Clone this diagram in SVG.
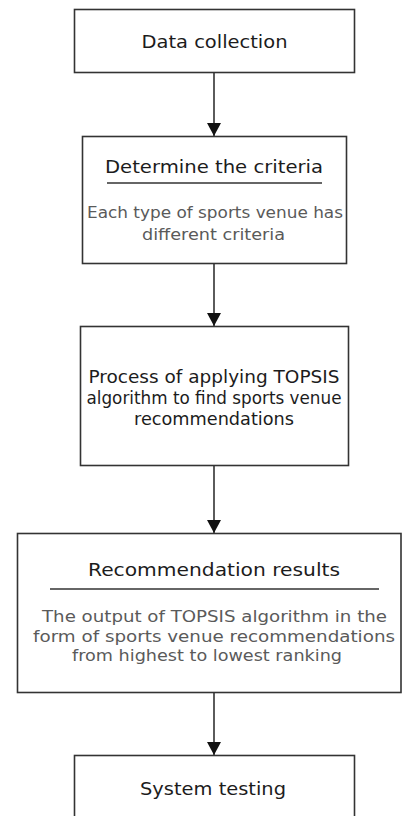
<svg xmlns="http://www.w3.org/2000/svg" width="403" height="816" viewBox="0 0 403 816">
<style>
.box{fill:#fff;stroke:#333;stroke-width:1.6}
.sep{stroke:#333;stroke-width:1.4}
.conn{stroke:#333;stroke-width:1.6;fill:none}
.t{font-family:"DejaVu Sans","Liberation Sans",sans-serif;font-size:18px;fill:#1c1c1c;text-anchor:middle}
.b{font-family:"DejaVu Sans","Liberation Sans",sans-serif;font-size:16px;fill:#5a5a5a;text-anchor:middle}
</style>
<defs>
<marker id="ah" markerWidth="14" markerHeight="14" refX="13" refY="7" orient="auto" markerUnits="userSpaceOnUse">
<path d="M0,0 L13,7 L0,14 Z" fill="#111"/>
</marker>
</defs>
<rect width="403" height="816" fill="#fff"/>
<g id="connectors">
<line class="conn" x1="214" y1="72" x2="214" y2="136" marker-end="url(#ah)"/>
<line class="conn" x1="214" y1="263" x2="214" y2="326" marker-end="url(#ah)"/>
<line class="conn" x1="214" y1="465" x2="214" y2="533" marker-end="url(#ah)"/>
<line class="conn" x1="214" y1="692" x2="214" y2="755" marker-end="url(#ah)"/>
</g>
<g id="n1">
<rect class="box" x="74.5" y="9.5" width="280" height="63"/>
<text class="t" x="214.5" y="48" textLength="146" lengthAdjust="spacingAndGlyphs">Data collection</text>
</g>
<g id="n2">
<rect class="box" x="82.5" y="136.5" width="264" height="127"/>
<text class="t" x="214" y="173" textLength="218" lengthAdjust="spacingAndGlyphs">Determine the criteria</text>
<line class="sep" x1="107" y1="183" x2="322" y2="183"/>
<text class="b" x="215" y="218" textLength="256" lengthAdjust="spacingAndGlyphs">Each type of sports venue has</text>
<text class="b" x="213.5" y="240" textLength="143" lengthAdjust="spacingAndGlyphs">different criteria</text>
</g>
<g id="n3">
<rect class="box" x="80.5" y="326.5" width="268" height="139"/>
<text class="t" x="214" y="383" textLength="251" lengthAdjust="spacingAndGlyphs">Process of applying TOPSIS</text>
<text class="t" x="214" y="404" textLength="255" lengthAdjust="spacingAndGlyphs">algorithm to find sports venue</text>
<text class="t" x="214" y="425" textLength="160" lengthAdjust="spacingAndGlyphs">recommendations</text>
</g>
<g id="n4">
<rect class="box" x="17.5" y="533.5" width="383.5" height="159"/>
<text class="t" x="214" y="576" textLength="252" lengthAdjust="spacingAndGlyphs">Recommendation results</text>
<line class="sep" x1="50" y1="589" x2="379" y2="589"/>
<text class="b" x="214.5" y="622" textLength="345" lengthAdjust="spacingAndGlyphs">The output of TOPSIS algorithm in the</text>
<text class="b" x="214" y="642" textLength="362" lengthAdjust="spacingAndGlyphs">form of sports venue recommendations</text>
<text class="b" x="207" y="661" textLength="270" lengthAdjust="spacingAndGlyphs">from highest to lowest ranking</text>
</g>
<g id="n5">
<rect class="box" x="74.5" y="755.5" width="280" height="80"/>
<text class="t" x="213" y="795" textLength="146" lengthAdjust="spacingAndGlyphs">System testing</text>
</g>
</svg>
